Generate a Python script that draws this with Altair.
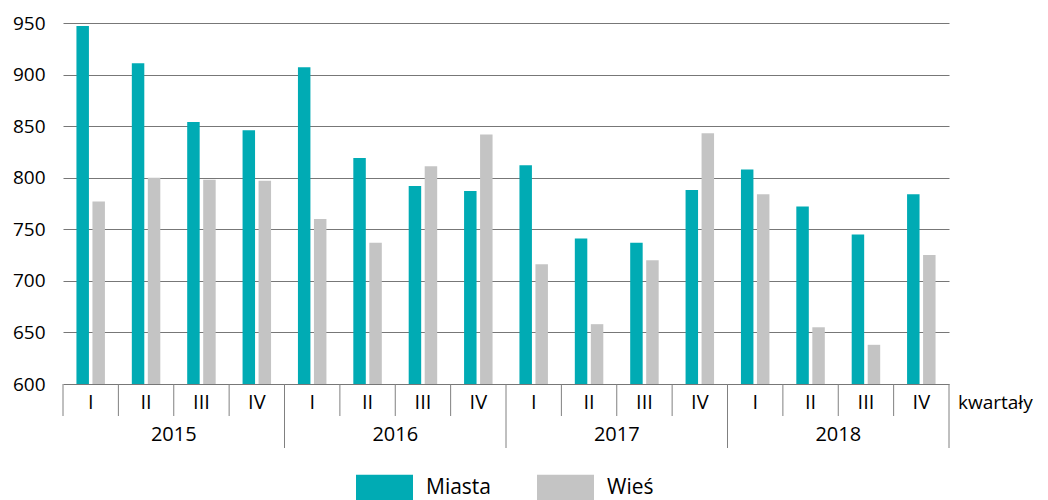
import altair as alt
import pandas as pd

years = ["2015", "2016", "2017", "2018"]
quarters = ["I", "II", "III", "IV"]
series = ["Miasta", "Wieś"]
miasta = [947, 911, 854, 846, 907, 819, 792, 787, 812, 741, 737, 788, 808, 772, 745, 784]
wies = [777, 800, 798, 797, 760, 737, 811, 842, 716, 658, 720, 843, 784, 655, 638, 725]
colors = ["#00abb4", "#c4c4c4"]
y_ticks = [600, 650, 700, 750, 800, 850, 900, 950]
axis_name = "kwartały"

ids = [f"{y}-{q}" for y in years for q in quarters]
rows = []
for i, qid in enumerate(ids):
    rows.append({"qid": qid, "series": series[0], "value": miasta[i]})
    rows.append({"qid": qid, "series": series[1], "value": wies[i]})
df = pd.DataFrame(rows)

qlab = pd.DataFrame({"qid": ids, "label": [q for y in years for q in quarters]})
ylab = pd.DataFrame({"qid": [f"{y}-II" for y in years], "label": years})
short_sep = pd.DataFrame({"qid": [ids[i] for i in range(len(ids)) if i % 4 != 0 or i == 0]})
long_sep = pd.DataFrame({"qid": [ids[i] for i in range(4, len(ids), 4)]})
right_edge = pd.DataFrame({"qid": [ids[-1]]})

W, H = 886, 361
FONT = "Open Sans"
FS = 19
FS2 = 20
FS3 = 21
SEP = "#808080"

xscale = alt.Scale(domain=ids, paddingInner=0, paddingOuter=0)

bars = alt.Chart(df).mark_bar().encode(
    x=alt.X("qid:N", scale=xscale, axis=None, sort=ids),
    xOffset=alt.XOffset("series:N", scale=alt.Scale(domain=series, paddingInner=0.22, paddingOuter=0.84)),
    y=alt.Y("value:Q",
            scale=alt.Scale(domain=[600, 950], nice=False, zero=False),
            axis=alt.Axis(values=y_ticks, title=None, grid=True, ticks=False, domain=False,
                          labelFontSize=FS, labelColor="black", labelFont=FONT, labelPadding=18,
                          gridColor="#777777", gridWidth=1)),
    y2=alt.datum(600),
    color=alt.Color("series:N", scale=alt.Scale(domain=series, range=colors),
                    legend=alt.Legend(orient="none", legendX=293, legendY=436, direction="horizontal",
                                      title=None, symbolType="M-1,-0.456H1V0.456H-1Z", symbolSize=3249,
                                      symbolStrokeWidth=0, labelFontSize=FS3, labelFont=FONT,
                                      labelColor="black", labelOffset=13, columnPadding=45, padding=0)),
)

short_rules = alt.Chart(short_sep).mark_rule(color=SEP, strokeWidth=1).encode(
    x=alt.X("qid:N", bandPosition=0),
    y=alt.value(H), y2=alt.value(H + 32),
)
long_rules = alt.Chart(long_sep).mark_rule(color=SEP, strokeWidth=1).encode(
    x=alt.X("qid:N", bandPosition=0),
    y=alt.value(H), y2=alt.value(H + 64),
)
right_rule = alt.Chart(right_edge).mark_rule(color=SEP, strokeWidth=1).encode(
    x=alt.X("qid:N", bandPosition=1),
    y=alt.value(H), y2=alt.value(H + 64),
)

q_text = alt.Chart(qlab).mark_text(fontSize=FS2, font=FONT, color="black", baseline="middle").encode(
    x=alt.X("qid:N"),
    y=alt.value(H + 19),
    text="label:N",
)
y_text = alt.Chart(ylab).mark_text(fontSize=FS2, font=FONT, color="black", baseline="middle").encode(
    x=alt.X("qid:N", bandPosition=1),
    y=alt.value(H + 51),
    text="label:N",
)
k_text = alt.Chart(pd.DataFrame({"t": [axis_name]})).mark_text(
    fontSize=FS, font=FONT, color="black", baseline="middle", align="left").encode(
    x=alt.value(W + 9),
    y=alt.value(H + 19),
    text="t:N",
)

chart = alt.layer(bars, short_rules, long_rules, right_rule, q_text, y_text, k_text).properties(
    width=W, height=H,
    autosize=alt.AutoSizeParams(type="none"),
    padding={"left": 55, "top": 15, "right": 90, "bottom": 116},
).configure_view(stroke=None)

chart.save("out.html", embed_options={"renderer": "svg", "actions": False})
